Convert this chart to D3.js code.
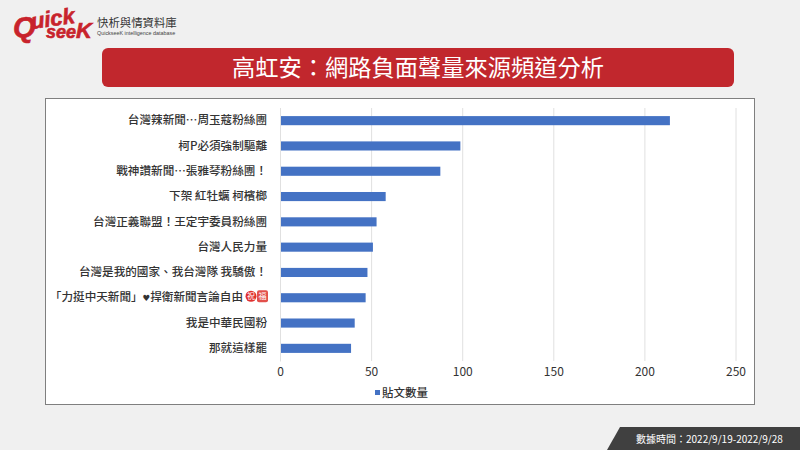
<!DOCTYPE html>
<html lang="zh-Hant">
  <head>
    <meta charset="utf-8" />
    <style>
      html, body { margin: 0; padding: 0; background: #f0f0f0; }
      svg { display: block; }
      text { font-family: "Noto Sans CJK TC", "Noto Sans", sans-serif; }
    </style>
  </head>
  <body>
    <svg id="chart" width="800" height="450"></svg>
    <script src="https://cdnjs.cloudflare.com/ajax/libs/d3/7.8.5/d3.min.js"></script>
    <script>
      const channels = [
        "台灣辣新聞…周玉蔻粉絲團",
        "柯P必須強制驅離",
        "戰神讚新聞…張雅琴粉絲團！",
        "下架 紅牡蠣 柯檳榔",
        "台灣正義聯盟！王定宇委員粉絲團",
        "台灣人民力量",
        "台灣是我的國家、我台灣隊 我驕傲！",
        "「力挺中天新聞」♥捍衛新聞言論自由",
        "我是中華民國粉",
        "那就這樣罷"
      ];
      const posts = [214, 99, 88, 58, 53, 51, 48, 47, 41, 39];
      const ticks = [0, 50, 100, 150, 200, 250];
      const seriesName = "貼文數量";
      const titleText = "高虹安：網路負面聲量來源頻道分析";
      const dateText = "數據時間：2022/9/19-2022/9/28";

      const svg = d3.select("#chart");

      // logo
      const logoFont = "'Liberation Sans'";
      const logo = svg.append("g").attr("fill", "#c8232c").attr("stroke", "#c8232c").attr("stroke-width", 0.6)
        .attr("font-weight", 700).attr("font-style", "italic");
      logo.append("text").attr("x", 13).attr("y", 37).attr("font-size", 29)
        .style("font-family", logoFont).text("Q");
      logo.append("text").attr("x", 32).attr("y", 29).attr("font-size", 22)
        .attr("transform", "rotate(-8 32 29)")
        .style("font-family", logoFont).text("uick");
      logo.append("text").attr("x", 46).attr("y", 38).attr("font-size", 18)
        .style("font-family", logoFont).text("see");
      logo.append("text").attr("x", 76).attr("y", 38).attr("font-size", 22)
        .style("font-family", logoFont).text("K");
      svg.append("text").attr("x", 97).attr("y", 27).attr("font-size", 11.4)
        .attr("fill", "#333").text("快析與情資料庫");
      svg.append("text").attr("x", 97).attr("y", 35).attr("font-size", 5.4)
        .attr("fill", "#444").style("font-family", logoFont).text("QuickseeK intelligence database");

      // title banner
      svg.append("rect").attr("x", 102).attr("y", 48).attr("width", 632).attr("height", 39)
        .attr("rx", 6).attr("fill", "#c1272d");
      svg.append("text").attr("x", 418).attr("y", 76).attr("text-anchor", "middle")
        .attr("font-size", 23.25).attr("fill", "#fff").text(titleText);

      // chart frame
      svg.append("rect").attr("x", 45.5).attr("y", 98.5).attr("width", 709).attr("height", 306)
        .attr("fill", "#fff").attr("stroke", "#7f7f7f").attr("stroke-width", 1);

      const x = d3.scaleLinear().domain([0, 250]).range([280, 735.5]);
      const y = d3.scaleBand().domain(channels).range([108, 361]).paddingInner(0.64).paddingOuter(0.32);

      const xAxis = svg.append("g").attr("transform", "translate(0,361)")
        .call(d3.axisBottom(x).tickValues(ticks).tickSize(-253).tickPadding(6));
      xAxis.select(".domain").remove();
      xAxis.selectAll("line").attr("stroke", "#e0e0e0");
      xAxis.selectAll("text").attr("font-size", 12).attr("fill", "#333");

      svg.append("g").selectAll("rect").data(posts).join("rect")
        .attr("x", x(0))
        .attr("y", (d, i) => y(channels[i]))
        .attr("width", d => x(d) - x(0))
        .attr("height", y.bandwidth())
        .attr("fill", "#4472c4");

      const yAxis = svg.append("g").attr("transform", "translate(280,0)")
        .call(d3.axisLeft(y).tickSize(0).tickPadding(13));
      yAxis.select(".domain").attr("stroke", "#e0e0e0");
      yAxis.selectAll("text").attr("font-size", 11.6).attr("font-weight", 500).attr("fill", "#333");

      // 8th label: narrow heart glyph and the two badges after it
      const badgeY = y(channels[7]) + y.bandwidth() / 2 - 1.5;
      yAxis.selectAll(".tick text").filter(d => d === channels[7]).attr("dx", -24).each(function (d) {
        const parts = d.split("♥");
        const label = d3.select(this).text(null);
        label.append("tspan").text(parts[0]);
        label.append("tspan").style("font-family", "'DejaVu Sans'").attr("font-size", 8.5).text("♥");
        label.append("tspan").text(parts[1]);
      });
      const badges = [{ cx: 251, c: "#e0312f", t: "祝" }, { cx: 262.5, c: "#e2504b", t: "福" }];
      svg.append("g").selectAll("g").data(badges).join("g").each(function (d, i) {
        const g = d3.select(this);
        if (i === 0) g.append("circle").attr("cx", d.cx).attr("cy", badgeY).attr("r", 5.5).attr("fill", d.c);
        else g.append("rect").attr("x", d.cx - 5.5).attr("y", badgeY - 6).attr("width", 11).attr("height", 12).attr("rx", 2).attr("fill", d.c);
        g.append("text").attr("x", d.cx).attr("y", badgeY + 3).attr("text-anchor", "middle")
          .attr("font-size", 8).attr("fill", "#fff").text(d.t);
      });

      // legend
      svg.append("rect").attr("x", 375).attr("y", 390).attr("width", 5).attr("height", 5).attr("fill", "#4472c4");
      svg.append("text").attr("x", 382).attr("y", 397).attr("font-size", 11.5).attr("font-weight", 500).attr("fill", "#333").text(seriesName);

      // date tag
      svg.append("path").attr("d", "M620,427H800V450H607Z").attr("fill", "#404040");
      svg.append("text").attr("x", 636).attr("y", 443).attr("font-size", 10).attr("fill", "#fff").text(dateText);
    </script>
  </body>
</html>
